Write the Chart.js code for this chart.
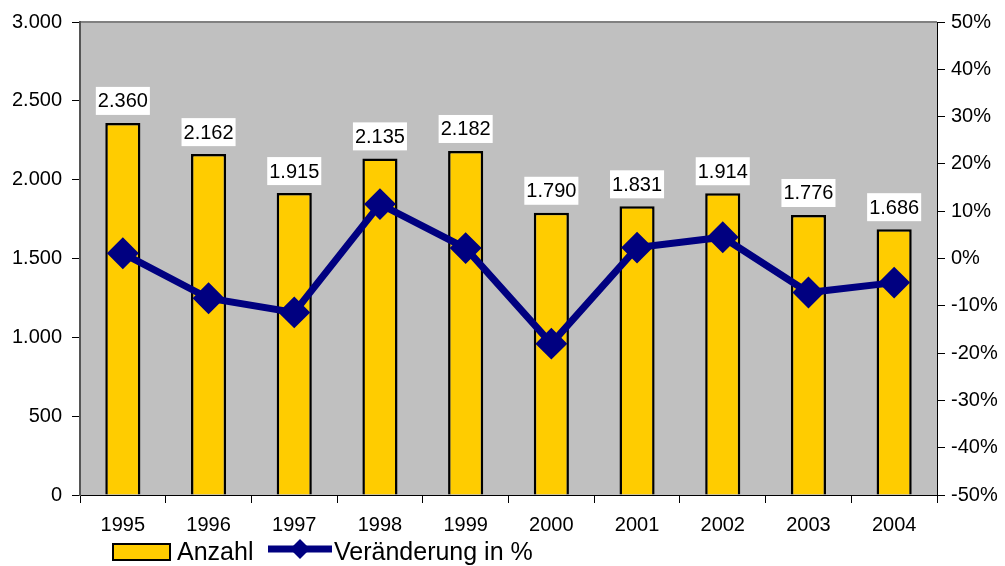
<!DOCTYPE html>
<html>
<head>
<meta charset="utf-8">
<script src="https://cdn.jsdelivr.net/npm/chart.js@4.4.1/dist/chart.umd.min.js"></script>
<style>
  html, body { margin: 0; padding: 0; background: #fff; }
  #wrap { width: 1005px; height: 566px; position: relative; }
</style>
</head>
<body>
<div id="wrap"><canvas id="chart"></canvas></div>
<script>
const years = ["1995", "1996", "1997", "1998", "1999", "2000", "2001", "2002", "2003", "2004"];
const anzahl = [2360, 2162, 1915, 2135, 2182, 1790, 1831, 1914, 1776, 1686];
const veraenderung = [1.1, -8.4, -11.4, 11.5, 2.2, -18.0, 2.3, 4.5, -7.2, -5.1];
const legendLabels = ["Anzahl", "Veränderung in %"];

const FONT = "'Liberation Sans', Arial, sans-serif";

function deNum(v) {
  return v.toLocaleString("de-DE");
}

// grey plot background + top border
const plotBg = {
  id: "plotBg",
  beforeDraw(chart) {
    const { ctx, chartArea: a } = chart;
    ctx.save();
    ctx.fillStyle = "#C0C0C0";
    ctx.fillRect(a.left, a.top, a.right - a.left, a.bottom - a.top);
    ctx.strokeStyle = "#808080";
    ctx.lineWidth = 2;
    ctx.beginPath();
    ctx.moveTo(a.left, a.top);
    ctx.lineTo(a.right, a.top);
    ctx.stroke();
    ctx.restore();
  }
};

// value boxes above the bars
const barLabels = {
  id: "barLabels",
  afterDatasetsDraw(chart) {
    const { ctx } = chart;
    const meta = chart.getDatasetMeta(1);
    ctx.save();
    ctx.font = "20px " + FONT;
    ctx.textAlign = "center";
    ctx.textBaseline = "middle";
    meta.data.forEach((bar, i) => {
      const txt = deNum(anzahl[i]);
      const w = ctx.measureText(txt).width + 4;
      const h = 28;
      const y = bar.y - 8 - h;
      ctx.fillStyle = "#fff";
      ctx.fillRect(bar.x - w / 2, y, w, h);
      ctx.fillStyle = "#000";
      ctx.fillText(txt, bar.x, y + h / 2 + 1);
    });
    ctx.restore();
  }
};

// legend drawn at the bottom
const bottomLegend = {
  id: "bottomLegend",
  afterDraw(chart) {
    const { ctx } = chart;
    const cy = 552;
    ctx.save();
    ctx.fillStyle = "#FFCC00";
    ctx.fillRect(113, 544, 57, 16);
    ctx.strokeStyle = "#000";
    ctx.lineWidth = 2;
    ctx.strokeRect(113, 544, 57, 16);
    ctx.font = "25px " + FONT;
    ctx.textBaseline = "middle";
    ctx.fillStyle = "#000";
    ctx.fillText(legendLabels[0], 177, cy + 1);

    ctx.strokeStyle = "#000080";
    ctx.lineWidth = 7;
    ctx.beginPath();
    ctx.moveTo(268, 549);
    ctx.lineTo(332, 549);
    ctx.stroke();
    ctx.fillStyle = "#000080";
    ctx.beginPath();
    ctx.moveTo(300, 539);
    ctx.lineTo(310, 549);
    ctx.lineTo(300, 559);
    ctx.lineTo(290, 549);
    ctx.closePath();
    ctx.fill();
    ctx.fillStyle = "#000";
    ctx.fillText(legendLabels[1], 334, cy + 1);
    ctx.restore();
  }
};

new Chart(document.getElementById("chart"), {
  type: "bar",
  data: {
    labels: years,
    datasets: [
      {
        type: "line",
        label: legendLabels[1],
        data: veraenderung,
        yAxisID: "y1",
        borderColor: "#000080",
        backgroundColor: "#000080",
        borderWidth: 7,
        pointStyle: "rectRot",
        pointRadius: 11,
        pointHoverRadius: 11,
        tension: 0,
        order: 0
      },
      {
        label: legendLabels[0],
        data: anzahl,
        yAxisID: "y",
        backgroundColor: "#FFCC00",
        borderColor: "#000",
        borderWidth: 2.5,
        categoryPercentage: 1,
        barPercentage: 0.41,
        order: 1
      }
    ]
  },
  options: {
    responsive: true,
    maintainAspectRatio: false,
    animation: false,
    layout: { padding: { top: 13, left: 0, right: 0, bottom: 0 } },
    plugins: {
      legend: { display: false },
      tooltip: { enabled: false }
    },
    scales: {
      x: {
        grid: { drawOnChartArea: false, color: "#000", tickLength: 8, offset: true },
        border: { display: true, color: "#000", width: 1 },
        ticks: { color: "#000", font: { family: FONT, size: 20 }, padding: 10, maxRotation: 0 },
        afterFit(scale) { scale.height = 71; }
      },
      y: {
        position: "left",
        min: 0,
        max: 3000,
        ticks: {
          stepSize: 500,
          color: "#000",
          font: { family: FONT, size: 20 },
          padding: 10,
          callback: (v) => deNum(v)
        },
        grid: { drawOnChartArea: false, color: "#000", tickLength: 8 },
        border: { display: true, color: "#555", width: 2 },
        afterFit(scale) { scale.width = 80; }
      },
      y1: {
        position: "right",
        min: -50,
        max: 50,
        ticks: {
          stepSize: 10,
          color: "#000",
          font: { family: FONT, size: 20 },
          padding: 6,
          callback: (v) => v + "%"
        },
        grid: { drawOnChartArea: false, color: "#000", tickLength: 8 },
        border: { display: true, color: "#000", width: 1 },
        afterFit(scale) { scale.width = 68; }
      }
    }
  },
  plugins: [plotBg, barLabels, bottomLegend]
});
</script>
</body>
</html>
